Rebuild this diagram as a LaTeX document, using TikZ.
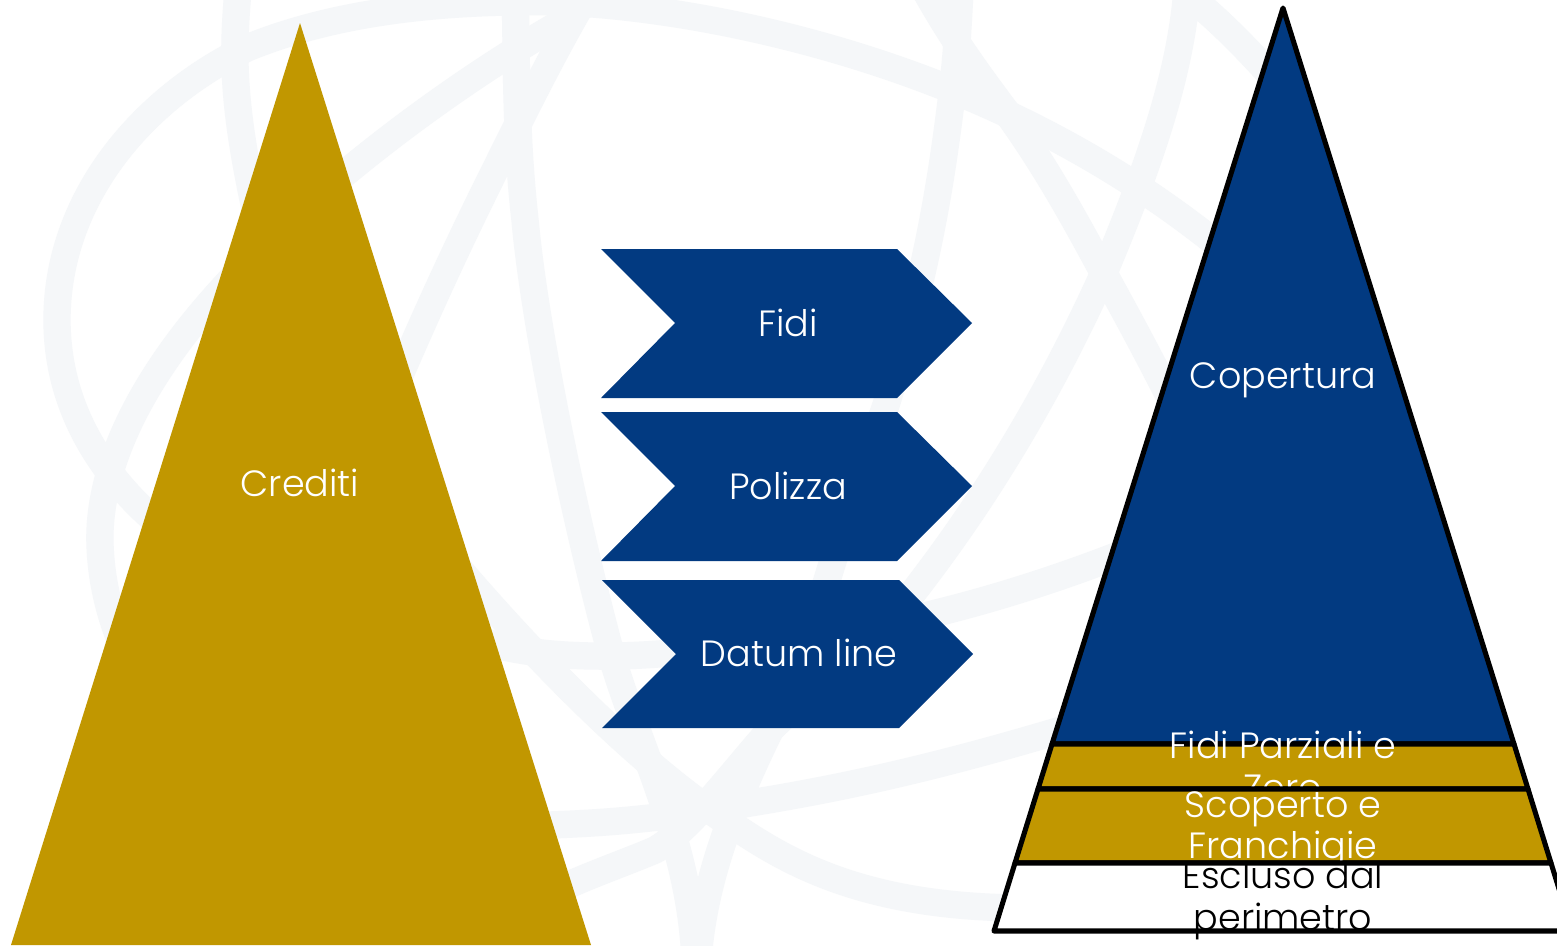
\documentclass[tikz,border=0pt]{standalone}
\usepackage{fontspec}
\setmainfont{Poppins}[UprightFont=* Light]
\definecolor{navy}{HTML}{023A81}
\definecolor{ochre}{HTML}{C19700}
\definecolor{ghost}{HTML}{F5F7F9}
\tikzset{
  bgstroke/.style={draw=ghost,line width=20.5pt,line cap=butt,line join=round},
  chevron/.style={fill=navy},
  layer/.style={draw=black,line width=3.8pt,line join=round},
  lbl/.style={inner sep=0pt,align=center,text=white,font=\fontsize{27.4pt}{31.4pt}\selectfont},
  lbldark/.style={lbl,text=black}
}
\begin{document}
\begin{tikzpicture}[x=0.75pt,y=-0.75pt]
\useasboundingbox (0,0) rectangle (1557,946);
\clip (0,0) rectangle (1557,946);
\fill[white] (0,0) rectangle (1557,946);
% background line art
\draw[bgstroke] (160,525) .. controls (95,470) and (57,400) .. (57,320) .. controls (57,200) and (140,100) .. (247,48) .. controls (340,10) and (450,0) .. (560,2) .. controls (700,8) and (880,50) .. (1030,125) .. controls (1120,170) and (1200,225) .. (1270,290);
\draw[bgstroke] (238,-10) .. controls (232,60) and (232,110) .. (262,240);
\draw[bgstroke] (515,-10) .. controls (517,60) and (515,130) .. (525,220) .. controls (535,330) and (575,520) .. (610,650) .. controls (635,740) and (690,840) .. (695,960);
\draw[bgstroke] (590,-10) .. controls (560,40) and (530,100) .. (515,130) .. controls (470,220) and (430,300) .. (360,470);
\draw[bgstroke] (575,15) .. controls (440,90) and (270,220) .. (180,340) .. controls (120,420) and (98,490) .. (100,545) .. controls (102,600) and (120,650) .. (150,700);
\draw[bgstroke] (925,-10) .. controls (950,35) and (975,70) .. (1005,110) .. controls (1045,165) and (1075,220) .. (1102,270) .. controls (1135,330) and (1170,395) .. (1200,460);
\draw[bgstroke] (960,-10) .. controls (957,50) and (955,70) .. (950,110) .. controls (935,230) and (915,310) .. (886,405) .. controls (860,480) and (820,590) .. (800,680);
\draw[bgstroke] (1187,-10) .. controls (1180,80) and (1145,175) .. (1103,275) .. controls (1060,370) and (1000,480) .. (915,590) .. controls (870,640) and (800,700) .. (770,730) .. controls (730,775) and (690,830) .. (655,850) .. controls (620,865) and (560,885) .. (530,905);
\draw[bgstroke] (790,690) .. controls (750,770) and (705,860) .. (698,960);
\draw[bgstroke] (1180,-10) .. controls (1210,10) and (1260,60) .. (1300,110);
\draw[bgstroke] (800,640) .. controls (920,622) and (1040,590) .. (1180,530);
\draw[bgstroke] (500,826) .. controls (620,825) and (680,815) .. (750,803) .. controls (860,785) and (960,762) .. (1120,712);
\draw[bgstroke] (460,570) .. controls (520,640) and (640,770) .. (740,830) .. controls (800,870) and (880,910) .. (1040,908);
\draw[bgstroke] (480,640) .. controls (520,655) and (600,662) .. (700,650);
% left triangle
\fill[ochre] (300,23) -- (591,945) -- (11,945) -- cycle;
\node[lbl] (crediti) at (300,483) {Crediti};
% chevrons
\fill[chevron] (601,249) -- (897,249) -- (972,323) -- (897,398) -- (601,398) -- (675,323) -- cycle;
\node[lbl] (fidi) at (788,323) {Fidi};
\fill[chevron] (601,412) -- (897,412) -- (972,486) -- (897,561) -- (601,561) -- (675,486) -- cycle;
\node[lbl] (polizza) at (788,486) {Polizza};
\fill[chevron] (602,580) -- (899,580) -- (973,654) -- (899,728) -- (602,728) -- (676,654) -- cycle;
\node[lbl] (datum) at (799,653) {Datum line};
% right pyramid, layer by layer; later layers cover the text of earlier ones
\draw[layer,fill=navy] (1283,8) -- (1514,744) -- (1052,744) -- cycle;
\node[lbl] (copertura) at (1283,380) {Copertura};
\draw[layer,fill=ochre] (1052,744) -- (1514,744) -- (1528,789) -- (1038,789) -- cycle;
\node[lbl] (parziali) at (1283,766) {Fidi Parziali e\\Zero};
\draw[layer,fill=ochre] (1038,789) -- (1528,789) -- (1551,863) -- (1015,863) -- cycle;
\node[lbl] (scoperto) at (1283,830) {Scoperto e\\Franchigie};
\draw[layer,fill=white] (1015,863) -- (1551,863) -- (1572,931) -- (994,931) -- cycle;
\node[lbldark] (escluso) at (1283,901) {Escluso dal\\perimetro};
\end{tikzpicture}
\end{document}
